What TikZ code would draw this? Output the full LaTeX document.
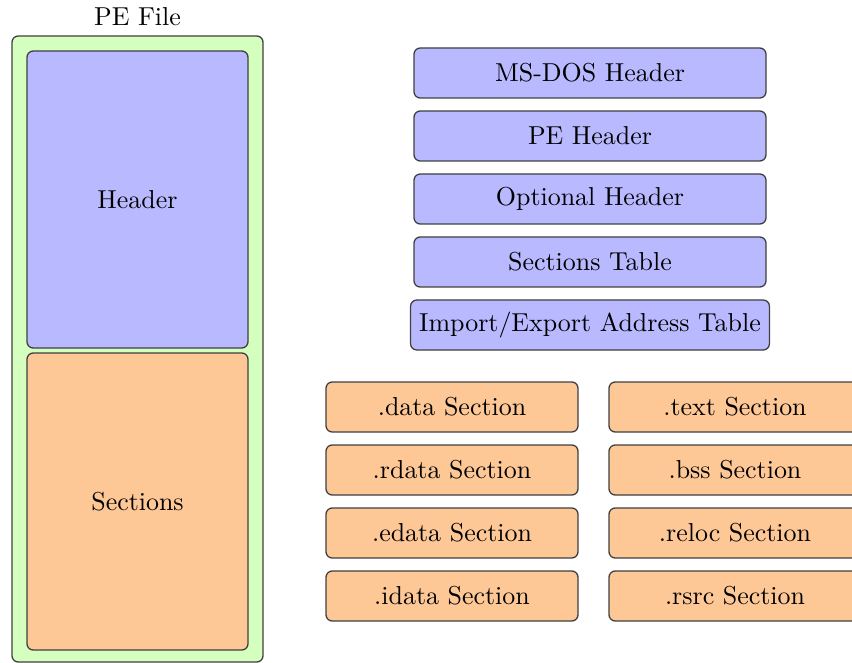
\documentclass[tikz,border=0pt]{standalone}
\def\px{0.38571pt}
\definecolor{pegreen}{RGB}{212,255,190}
\definecolor{peblue}{RGB}{185,185,255}
\definecolor{peorange}{RGB}{253,199,150}
\tikzset{
  box/.style={draw=black!75, line width=0.5pt, rounded corners=2.4pt, inner sep=3.333pt, align=center},
  hdrbox/.style={box, fill=peblue, minimum width={352*\px}, minimum height={50*\px}},
  secbox/.style={box, fill=peorange, minimum width={252*\px}, minimum height={50*\px}},
}
\begin{document}
\begin{tikzpicture}[x=0.38571pt, y=-0.38571pt]
\useasboundingbox (0,0) rectangle (852,663);
\clip (0,0) rectangle (852,663);
\node (title) at (137.5,17) {PE File};
\node[box, fill=pegreen, minimum width={251*\px}, minimum height={626*\px}] (pefile) at (137.5,349) {};
\node[box, fill=peblue, minimum width={221*\px}, minimum height={297*\px}] (header) at (137.5,199.5) {Header};
\node[box, fill=peorange, minimum width={221*\px}, minimum height={297*\px}] (sections) at (137.5,501.5) {Sections};
\node[hdrbox] (msdos) at (590,73) {MS-DOS Header};
\node[hdrbox] (pehdr) at (590,136) {PE Header};
\node[hdrbox] (opthdr) at (590,199) {Optional Header};
\node[hdrbox] (sectab) at (590,262) {Sections Table};
\node[hdrbox] (iat) at (590,325) {Import/Export Address Table};
\node[secbox] (data) at (452,407) {.data Section};
\node[secbox] (rdata) at (452,470) {.rdata Section};
\node[secbox] (edata) at (452,533) {.edata Section};
\node[secbox] (idata) at (452,596) {.idata Section};
\node[secbox] (text) at (735,407) {.text Section};
\node[secbox] (bss) at (735,470) {.bss Section};
\node[secbox] (reloc) at (735,533) {.reloc Section};
\node[secbox] (rsrc) at (735,596) {.rsrc Section};
\end{tikzpicture}
\end{document}
